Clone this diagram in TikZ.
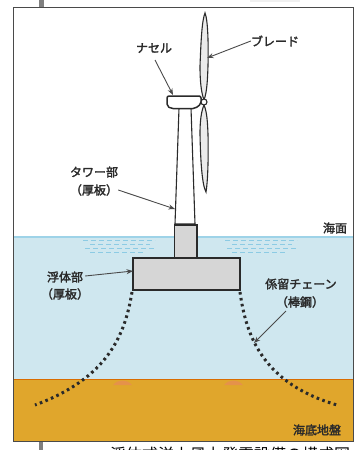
\documentclass[tikz,border=0pt]{standalone}
\usepackage{fontspec}
\newfontfamily\jpfont{Noto Sans CJK JP}
\newfontfamily\jpheavy{Noto Sans CJK JP}[FakeBold=2.2]
\usetikzlibrary{arrows.meta}
\definecolor{seawater}{HTML}{CFE7EF}
\definecolor{surfaceline}{HTML}{9ED3E8}
\definecolor{seabed}{HTML}{E0A62C}
\definecolor{steelfill}{HTML}{D6D6D6}
\definecolor{mound}{HTML}{E5924A}
\definecolor{waveline}{HTML}{8CCBE4}
\definecolor{darkline}{HTML}{2A2A2A}
\definecolor{margbar}{HTML}{808080}
\tikzset{
  x=1pt,y=-1pt,
  lbl/.style={font=\jpheavy\fontsize{12}{14}\selectfont,text=darkline,inner sep=0pt,align=center},
  leader/.style={draw=darkline!85,line width=0.9pt,-{Stealth[length=6.5pt,width=5pt]}},
  part/.style={draw=darkline,line width=1.8pt,fill=steelfill},
  turbine/.style={draw=darkline,line width=1.1pt,fill=white},
  chain/.style={draw=darkline,line width=3pt,dash pattern=on 2.6pt off 3.4pt},
  wave/.style={draw=waveline,line width=0.8pt,dash pattern=on 5pt off 3pt},
}
\begin{document}
\begin{tikzpicture}
\useasboundingbox (0,0) rectangle (358,450);
% marks outside the frame
\fill[margbar] (39,0) rectangle (44,7);
\fill[margbar] (39,441) rectangle (43,450);
\fill[black!6] (250,0) rectangle (300,2);
% sea and seabed
\fill[seawater] (13.5,237) rectangle (353,379);
\fill[seabed] (13.5,379) rectangle (353,441.5);
\draw[surfaceline,line width=1.2pt] (13.5,237) -- (353,237);
\draw[orange!85!black,line width=0.8pt] (13.5,379) -- (353,379);
\fill[mound] (113,385) .. controls (118,379) and (127,379) .. (132,385) -- cycle;
\fill[mound] (224,385) .. controls (229,379) and (238,379) .. (243,385) -- cycle;
% ripples beside the float
\foreach \yy/\xa/\xb in {240/83/155,244/90/150,248/85/155,252/90/145}{
  \draw[wave] (\xa,\yy) -- (\xb,\yy);
  \draw[wave] (\xa+142,\yy) -- (\xb+142,\yy);
}
% mooring chains
\draw[chain] (132,292) .. controls (125,335) and (108,378) .. (35,405);
\draw[chain] (240,292) .. controls (246,335) and (262,383) .. (337,405);
% tower and blades
\draw[turbine] (179,108) -- (175,224) -- (195,224) -- (191,108) -- cycle;
\draw[turbine,fill=black!8] (204,100) .. controls (201,92) and (200,80) .. (200,66)
  .. controls (201,40) and (202,20) .. (205,13)
  .. controls (208,20) and (208.5,45) .. (208,66)
  .. controls (207.5,80) and (207,92) .. (204,100) -- cycle;
\draw[turbine,fill=black!8] (204,105) .. controls (201,112) and (200,122) .. (200,134)
  .. controls (200.5,160) and (202,185) .. (206,192)
  .. controls (208,180) and (208.5,155) .. (208,134)
  .. controls (207.5,122) and (207,112) .. (204,105) -- cycle;
% nacelle and hub
\draw[turbine,line width=1.5pt,rounded corners=2pt] (167,96) -- (201,96) -- (201,104) -- (195,108.5) -- (171,108.5) -- (167,106) -- cycle;
\draw[turbine] (204,102) circle[radius=3];
% float
\node[part,inner sep=0pt,anchor=north west,minimum height=33pt,text width=22.5pt] (spar) at (173.5,224) {};
\node[part,inner sep=0pt,anchor=north west,minimum height=32pt,text width=107pt] (float) at (132,257) {};
% frame
\draw[darkline!85,line width=1pt] (13.5,7.5) rectangle (353,441.5);
% labels
\node[lbl] (nacelle) at (154,48) {ナセル};
\node[lbl] (blade) at (275,41) {ブレード};
\node[lbl] (tower) at (94,172) {タワー部};
\node[lbl] (towerb) at (94,190) {（厚板）};
\node[lbl] (surface) at (335,228) {海面};
\node[lbl] (floater) at (65,277) {浮体部};
\node[lbl] (floaterb) at (65,294) {（厚板）};
\node[lbl] (moor) at (301,284) {係留チェーン};
\node[lbl] (moorb) at (300,302) {（棒鋼）};
\node[lbl] (bed) at (317,430) {海底地盤};
\node[font=\jpfont\fontsize{16}{18}\selectfont,inner sep=0pt,anchor=west] (caption) at (110,454) {浮体式洋上風力発電設備の構成図};
% leader targets
\coordinate (tNacelle) at (173,95);
\coordinate (tBlade) at (207,58);
\coordinate (tTower) at (175,209);
\coordinate (tFloat) at (133,271);
\coordinate (tChain) at (254,343);
\draw[leader] (155,60) -- (tNacelle);
\draw[leader] (blade.west) -- (tBlade);
\draw[leader] (towerb.east) -- (tTower);
\draw[leader] (floater.east)++(2,-1) -- (tFloat);
\draw[leader] (286,311) -- (tChain);
\end{tikzpicture}
\end{document}
